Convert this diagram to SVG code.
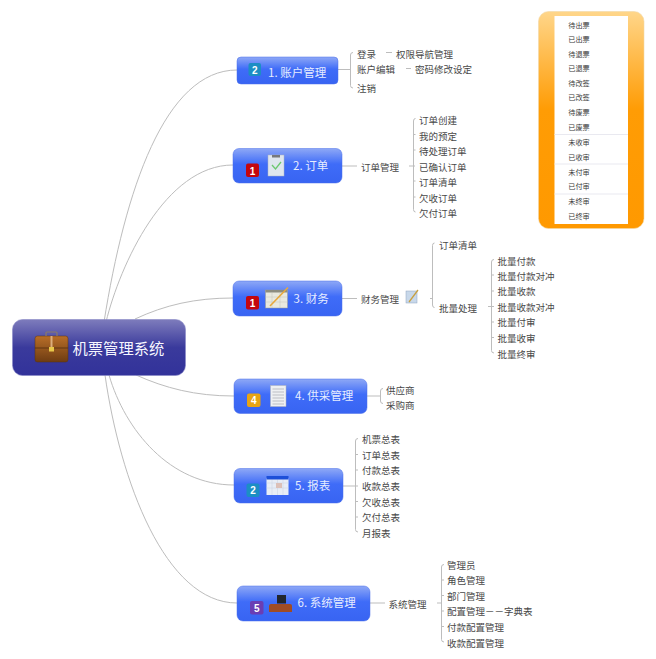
<svg xmlns="http://www.w3.org/2000/svg" width="656" height="659" viewBox="0 0 656 659">
<style>
text{font-family:"Noto Sans CJK SC","Liberation Sans",sans-serif}
.l{font-size:9.5px;fill:#484848}
.t{font-size:11.5px;fill:#e6ecff}
.r{font-size:15.3px;fill:#f6f6ff}
.p{font-size:7.2px;fill:#3a3a3a;text-anchor:middle}
.c{fill:none;stroke:#bdbdbd;stroke-width:1}
.n{fill:url(#nodeFill);stroke:#4a6fe8;stroke-width:.5}
.b{font-family:"Liberation Sans",sans-serif;font-size:10px;font-weight:bold;fill:#fff;text-anchor:middle}
.sep{stroke:#e9e9f0;stroke-width:1}
</style>
<defs>
<linearGradient id="nodeFill" x1="0" y1="0" x2="0" y2="1"><stop offset="0" stop-color="#8ea8f6"/><stop offset=".45" stop-color="#3f6cf8"/><stop offset="1" stop-color="#3864f2"/></linearGradient>
<linearGradient id="rootFill" x1="0" y1="0" x2="0" y2="1"><stop offset="0" stop-color="#7e7cbc"/><stop offset=".5" stop-color="#3a3a9c"/><stop offset="1" stop-color="#32329a"/></linearGradient>
<linearGradient id="panelFill" x1="0" y1="0" x2="0" y2="1"><stop offset="0" stop-color="#ffd68a"/><stop offset=".45" stop-color="#ff9c05"/><stop offset="1" stop-color="#ff9900"/></linearGradient>
<linearGradient id="case" x1="0" y1="0" x2="0" y2="1"><stop offset="0" stop-color="#b86e28"/><stop offset="1" stop-color="#6e3c12"/></linearGradient>
</defs>
<rect width="656" height="659" fill="#fff"/>
<g id="connectors">
<path class="c" d="M104 322C125 190 165 70 237 70"/>
<path class="c" d="M106 322C120 265 165 165 233 165"/>
<path class="c" d="M135 319C165 305 195 298 233 298"/>
<path class="c" d="M136 375C165 388 195 396 234 396"/>
<path class="c" d="M109 375C125 430 170 485 234 485"/>
<path class="c" d="M105 375C120 480 165 603 237 603"/>
<path class="c" d="M338 69.5H350M353 52.5Q350.500 52.500 350.500 55V85.500Q350.500 88 353 88M386 52.500H392M406 68.500H411"/>
<path class="c" d="M342 166H357M409 166H415M415.500 118.500Q413.500 118.500 413.500 121V209.500Q413.500 212 415.500 212M413.500 134.500H415.500M413.500 150H415.500M413.500 181H415.500M413.500 197H415.500"/>
<path class="c" d="M342 298.500H357M430 298.500H432.500M434.500 243Q432.500 243 432.500 245.500V305Q432.500 307.500 434.500 307.500M488 306.500H494M494 259.500Q491.500 259.500 491.500 262V350.500Q491.500 353 494 353M491.500 275H494M491.500 291H494M491.500 306.500H494M491.500 322H494M491.500 337.500H494"/>
<path class="c" d="M367 396H380M383 388.500Q380.500 388.500 380.500 391V401Q380.500 403.500 383 403.500"/>
<path class="c" d="M343 486H358M358 438.500Q355.500 438.500 355.500 441V529.500Q355.500 532 358 532M355.500 454.500H358M355.500 470H358M355.500 501.500H358M355.500 517H358"/>
<path class="c" d="M370 603H385M437 603H441.500M444 564.500Q441.500 564.500 441.500 567V639.500Q441.500 642 444 642M441.500 580H444M441.500 595.500H444M441.500 611H444M441.500 626.500H444"/>
</g>
<g id="root">
<rect x="12.500" y="319.500" width="173" height="56" rx="10" fill="url(#rootFill)" stroke="#8a8ac8" stroke-width=".6"/>
<rect x="35" y="336" width="33" height="26" rx="2.500" fill="url(#case)" stroke="#5a3410" stroke-width=".5"/>
<path d="M46 336V333Q46 332 47 332H56Q57 332 57 333V336" fill="none" stroke="#8a7a68" stroke-width="1.200"/>
<path d="M35 348H68" stroke="#5f3510" stroke-width="1"/>
<rect x="50.500" y="336" width="2" height="12" fill="#dcae7c"/>
<rect x="49" y="347" width="5" height="4.500" fill="#e8c84a"/>
<text class="r" x="72.500" y="354">机票管理系统</text>
</g>
<g id="node-1">
<rect class="n" x="237" y="57" width="101" height="27" rx="4"/>
<rect x="248.500" y="63" width="12.500" height="13" rx="2" fill="#1c8ec4"/>
<text class="b" x="254.700" y="73.500">2</text>
<text class="t" x="268" y="77">1. 账户管理</text>
</g>
<g id="node-2">
<rect class="n" x="233" y="148.500" width="109" height="34.500" rx="6"/>
<rect x="246" y="163.500" width="13" height="13.500" rx="2" fill="#c4060e"/>
<text class="b" x="252.500" y="174.500">1</text>
<rect x="268" y="155" width="16" height="21" fill="#dfe6ee" stroke="#aab4c4" stroke-width=".5"/>
<rect x="272" y="155" width="8" height="2.500" fill="#77797c"/>
<path d="M272 165L275.500 169L281 162" fill="none" stroke="#6cc870" stroke-width="1.300"/>
<text class="t" x="293" y="170">2. 订单</text>
</g>
<g id="node-3">
<rect class="n" x="233" y="281" width="109" height="35" rx="6"/>
<rect x="246" y="296" width="13" height="13.500" rx="2" fill="#c4060e"/>
<text class="b" x="252.500" y="307">1</text>
<rect x="265.500" y="290" width="22" height="18" fill="#e9e9df" stroke="#9a9a90" stroke-width=".5"/>
<rect x="265.500" y="290" width="22" height="2.500" fill="#8d8d80"/>
<path d="M265.500 297H287.500M265.500 302H287.500M272 292.500V308M280 292.500V308" stroke="#c4c4b8" stroke-width=".5"/>
<path d="M270 306L288 287.500" stroke="#e8a83c" stroke-width="1.600"/>
<text class="t" x="293.500" y="303">3. 财务</text>
</g>
<g id="node-4">
<rect class="n" x="234" y="379" width="133" height="34.500" rx="6"/>
<rect x="247" y="393.500" width="13.500" height="13.500" rx="2" fill="#e8a414"/>
<text class="b" x="253.700" y="404">4</text>
<rect x="270.500" y="385.500" width="15.500" height="21" fill="#eef0f2" stroke="#b0b4ba" stroke-width=".5"/>
<path d="M272.500 389H284M272.500 392H284M272.500 395H284M272.500 398H284M272.500 401H284M272.500 404H284" stroke="#9a9ea4" stroke-width=".6"/>
<text class="t" x="295" y="400">4. 供采管理</text>
</g>
<g id="node-5">
<rect class="n" x="234" y="468.500" width="109" height="34.500" rx="6"/>
<rect x="246.500" y="483.500" width="13" height="13.500" rx="2" fill="#1c8ec4"/>
<text class="b" x="253" y="494">2</text>
<rect x="266.500" y="478" width="22" height="17" fill="#e8edf6"/>
<path d="M266.500 483H288.500M266.500 488H288.500M272 479.500V495M277.500 479.500V495M283 479.500V495" stroke="#c8d0e0" stroke-width=".5"/>
<rect x="266.500" y="476" width="22" height="3.500" fill="#1d4fd8"/>
<rect x="276" y="483" width="6" height="5" fill="#dcc0b8"/>
<text class="t" x="295" y="490">5. 报表</text>
</g>
<g id="node-6">
<rect class="n" x="237" y="586" width="133" height="35" rx="6"/>
<rect x="250" y="601" width="13.500" height="13.500" rx="2" fill="#6a3db4"/>
<text class="b" x="256.700" y="611.500">5</text>
<rect x="277" y="595" width="9" height="8.500" fill="#22262e"/>
<path d="M269 606Q269 604 271 604H290Q292 604 292 606V612H269Z" fill="#a04c24"/>
<text class="t" x="297.500" y="607">6. 系统管理</text>
</g>
<g id="account-items">
<text class="l" x="357" y="57.500">登录</text>
<text class="l" x="396" y="57.500">权限导航管理</text>
<text class="l" x="357" y="73">账户编辑</text>
<text class="l" x="415" y="73">密码修改设定</text>
<text class="l" x="357" y="92">注销</text>
</g>
<g id="order-items">
<text class="l" x="361" y="170.500">订单管理</text>
<text class="l" x="419" y="123.500">订单创建</text>
<text class="l" x="419" y="139.500">我的预定</text>
<text class="l" x="419" y="154.500">待处理订单</text>
<text class="l" x="419" y="170.500">已确认订单</text>
<text class="l" x="419" y="185.500">订单清单</text>
<text class="l" x="419" y="201.500">欠收订单</text>
<text class="l" x="419" y="217">欠付订单</text>
</g>
<g id="finance-items">
<text class="l" x="361" y="302.500">财务管理</text>
<rect x="406" y="291" width="11" height="12" fill="#c8d8ea" stroke="#8ea4c0" stroke-width=".5"/>
<path d="M409 302L418 290" stroke="#c8a040" stroke-width="1.300"/>
<text class="l" x="439" y="248.500">订单清单</text>
<text class="l" x="439" y="311.500">批量处理</text>
<text class="l" x="497.500" y="264.500">批量付款</text>
<text class="l" x="497.500" y="279.500">批量付款对冲</text>
<text class="l" x="497.500" y="295">批量收款</text>
<text class="l" x="497.500" y="311">批量收款对冲</text>
<text class="l" x="497.500" y="326">批量付审</text>
<text class="l" x="497.500" y="342">批量收审</text>
<text class="l" x="497.500" y="357.500">批量终审</text>
</g>
<g id="supply-items">
<text class="l" x="386" y="393.500">供应商</text>
<text class="l" x="386" y="408.500">采购商</text>
</g>
<g id="report-items">
<text class="l" x="362" y="443">机票总表</text>
<text class="l" x="362" y="459">订单总表</text>
<text class="l" x="362" y="474">付款总表</text>
<text class="l" x="362" y="490">收款总表</text>
<text class="l" x="362" y="506">欠收总表</text>
<text class="l" x="362" y="521">欠付总表</text>
<text class="l" x="362" y="537">月报表</text>
</g>
<g id="system-items">
<text class="l" x="388.500" y="607.500">系统管理</text>
<text class="l" x="447" y="568.500">管理员</text>
<text class="l" x="447" y="584">角色管理</text>
<text class="l" x="447" y="599.500">部门管理</text>
<text class="l" x="447" y="615">配置管理－－字典表</text>
<text class="l" x="447" y="631">付款配置管理</text>
<text class="l" x="447" y="646.500">收款配置管理</text>
</g>
<g id="status-panel">
<rect x="538.500" y="11.500" width="105.500" height="217" rx="10" fill="url(#panelFill)" stroke="#f2d8a8" stroke-width=".6"/>
<rect x="554.500" y="16" width="73.500" height="208" fill="#fff"/>
<path class="sep" d="M554.500 134.500H628M554.500 164H628M554.500 194H628"/>
<text class="p" x="579" y="27.500">待出票</text>
<text class="p" x="579" y="41.500">已出票</text>
<text class="p" x="579" y="56.500">待退票</text>
<text class="p" x="579" y="70.500">已退票</text>
<text class="p" x="579" y="85.500">待改签</text>
<text class="p" x="579" y="100">已改签</text>
<text class="p" x="579" y="115">待废票</text>
<text class="p" x="579" y="129.500">已废票</text>
<text class="p" x="579" y="145">未收审</text>
<text class="p" x="579" y="159.500">已收审</text>
<text class="p" x="579" y="174.500">未付审</text>
<text class="p" x="579" y="189">已付审</text>
<text class="p" x="579" y="204">未终审</text>
<text class="p" x="579" y="219">已终审</text>
</g>
</svg>
